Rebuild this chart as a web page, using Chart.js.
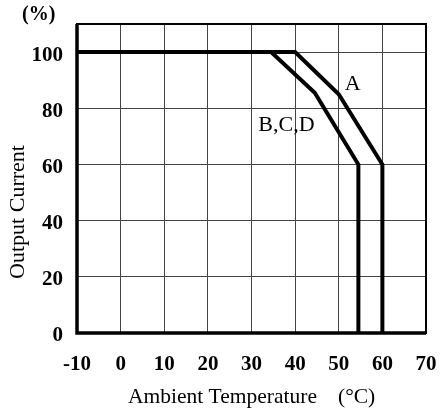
<!DOCTYPE html>
<html>
<head>
<meta charset="utf-8">
<script src="https://cdn.jsdelivr.net/npm/chart.js@4"></script>
<style>
  body { margin: 0; background: #fff; }
  #chart { display: block; }
</style>
</head>
<body>
<canvas id="chart" width="440" height="416"></canvas>
<script>
// derating curves
const tempA = [-10, 40, 50, 60, 60];
const currentA = [100, 100, 85, 60, 0];
const tempBCD = [-10, 34.5, 44.5, 54.5, 54.5];
const currentBCD = [100, 100, 85.5, 60, 0];

const curveLabels = ["A", "B,C,D"];
const labelTemps = [53.2, 38];
const labelCurrents = [88.5, 74];

const xTitle = "Ambient Temperature";
const xUnit = "(°C)";
const yTitle = "Output Current";
const yUnit = "(%)";

const serif = "'Liberation Serif', 'DejaVu Serif', serif";

const toPoints = (xs, ys) => xs.map((x, i) => ({ x: x, y: ys[i] }));

const extras = {
    id: 'extras',
    afterDatasetsDraw(chart) {
        const ctx = chart.ctx;
        const a = chart.chartArea;
        const xs = chart.scales.x, ys = chart.scales.y;
        ctx.save();
        // frame
        ctx.strokeStyle = '#000';
        ctx.lineWidth = 2;
        ctx.strokeRect(a.left, a.top, a.right - a.left, a.bottom - a.top);
        ctx.lineWidth = 3.5;
        ctx.beginPath();
        ctx.moveTo(a.left, a.top);
        ctx.lineTo(a.left, a.bottom);
        ctx.lineTo(a.right, a.bottom);
        ctx.stroke();

        // curve labels
        ctx.fillStyle = '#000';
        ctx.font = '22px ' + serif;
        ctx.textAlign = 'center';
        ctx.textBaseline = 'middle';
        curveLabels.forEach((t, i) => {
            ctx.fillText(t, xs.getPixelForValue(labelTemps[i]), ys.getPixelForValue(labelCurrents[i]));
        });

        // axis titles
        ctx.textBaseline = 'alphabetic';
        ctx.textAlign = 'left';
        ctx.font = '21.5px ' + serif;
        ctx.fillText(xTitle, 128, 403);
        ctx.fillText(xUnit, 338, 403);
        ctx.font = 'bold 20px ' + serif;
        ctx.fillText(yUnit, 22, 20);

        ctx.font = '22px ' + serif;
        ctx.translate(24, 212);
        ctx.rotate(-Math.PI / 2);
        ctx.textAlign = 'center';
        ctx.fillText(yTitle, 0, 0);
        ctx.restore();
    }
};

const config = {
    type: 'scatter',
    data: {
        datasets: [
            {
                label: 'A',
                data: toPoints(tempA, currentA),
                showLine: true,
                borderColor: '#000',
                borderWidth: 4,
                borderJoinStyle: 'miter',
                pointRadius: 0,
                fill: false,
            },
            {
                label: 'B,C,D',
                data: toPoints(tempBCD, currentBCD),
                showLine: true,
                borderColor: '#000',
                borderWidth: 4,
                borderJoinStyle: 'miter',
                pointRadius: 0,
                fill: false,
            },
        ],
    },
    options: {
        responsive: false,
        animation: false,
        layout: { padding: { left: 0, top: 24, right: 14, bottom: 0 } },
        plugins: {
            legend: { display: false },
            tooltip: { enabled: false },
        },
        scales: {
            x: {
                type: 'linear',
                min: -10,
                max: 70,
                afterFit: (s) => { s.height = 83; s.paddingLeft = 0; s.paddingRight = 0; },
                ticks: {
                    stepSize: 10,
                    padding: 19,
                    color: '#000',
                    font: { family: serif, size: 21, weight: 'bold' },
                },
                grid: { color: '#444', lineWidth: 1, drawTicks: false },
                border: { display: false },
            },
            y: {
                min: 0,
                max: 110,
                afterFit: (s) => { s.width = 77; s.paddingTop = 0; s.paddingBottom = 0; },
                ticks: {
                    stepSize: 10,
                    padding: 14,
                    labelOffset: 3,
                    color: '#000',
                    font: { family: serif, size: 21, weight: 'bold' },
                    callback: (v) => (v % 20 === 0 && v <= 100 ? v : ''),
                },
                grid: { color: '#444', lineWidth: 1, drawTicks: false },
                border: { display: false },
            },
        },
    },
    plugins: [extras],
};

new Chart(document.getElementById('chart').getContext('2d'), config);
</script>
</body>
</html>
